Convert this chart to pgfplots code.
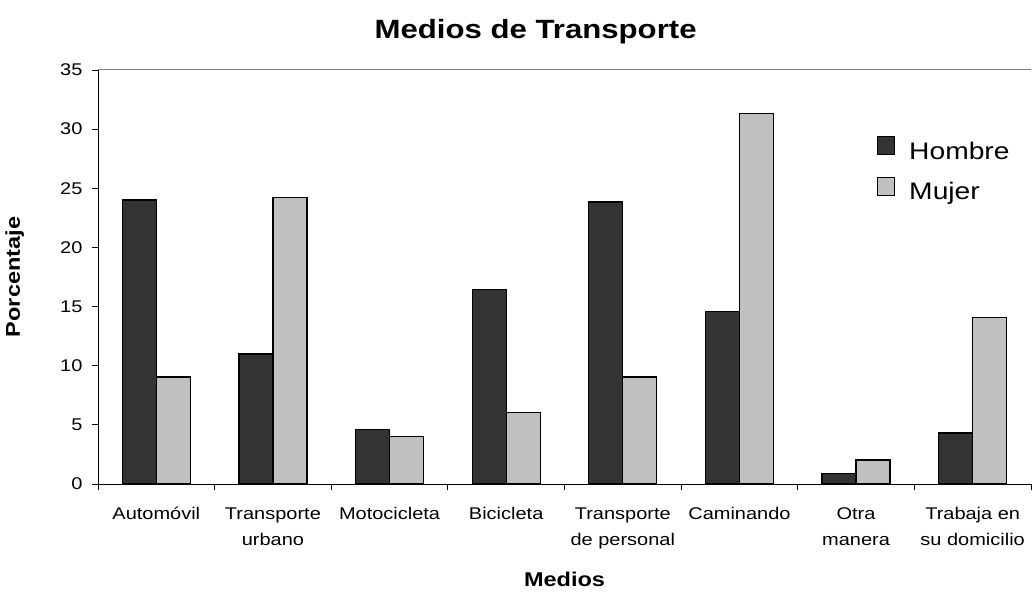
\documentclass[border=0pt]{standalone}
\usepackage{fontspec}
\setmainfont[FakeStretch=1.18]{Liberation Sans}
\usepackage{pgfplots}
\pgfplotsset{compat=1.18}

\definecolor{hombre}{HTML}{333333}
\definecolor{mujer}{HTML}{C0C0C0}

\begin{document}
\begin{tikzpicture}
\begin{axis}[
    at={(0,0)}, anchor=south west,
    scale only axis,
    width=933bp, height=414bp,
    ybar=0pt, bar width=34bp,
    xmin=-0.5, xmax=7.5,
    ymin=0, ymax=35,
    enlarge x limits=false,
    axis x line*=bottom,
    axis y line*=left,
    axis line style={black, line width=1pt},
    xtick={0,...,7},
    xticklabels={Automóvil, Transporte\\urbano, Motocicleta, Bicicleta,
        Transporte\\de personal, Caminando, Otra\\manera, Trabaja en\\su domicilio},
    xticklabel style={align=center, font=\fontsize{17}{26}\selectfont, anchor=north, yshift=-14bp},
    major x tick style={draw=none},
    minor xtick={-0.5,0.5,...,7.5},
    minor tick length=6bp,
    ytick={0,5,...,35},
    major tick length=6bp,
    tick align=outside,
    tick style={black, line width=0.8pt},
    yticklabel style={font=\fontsize{17}{20}\selectfont, xshift=-6bp},
    /pgf/number format/assume math mode=true,
    xlabel={\textbf{Medios}},
    xlabel style={font=\fontsize{20}{22}\selectfont, at={(rel axis cs:0.5,0)}, anchor=base, yshift=-102bp},
    ylabel={\textbf{Porcentaje}},
    ylabel style={font=\fontsize{20}{22}\selectfont, at={(rel axis cs:0,0.5)}, anchor=base, rotate=0, yshift=78bp},
    legend style={draw=none, fill=none, at={(rel axis cs:0.835,0.842)}, anchor=north west,
        font=\fontsize{24}{28}\selectfont, row sep=14bp, inner sep=0pt,
        /tikz/every odd column/.append style={column sep=12bp}},
    legend cell align=left,
    legend image code/.code={\draw[#1, line width=1pt] (0bp,-3bp) rectangle (17bp,15bp);},
    clip=false,
]
\addplot[fill=hombre, draw=black, line width=1.3pt]
    coordinates {(0,24.0) (1,11.0) (2,4.6) (3,16.45) (4,23.85) (5,14.6) (6,0.9) (7,4.3)};
\addplot[fill=mujer, draw=black, line width=1.3pt]
    coordinates {(0,9.05) (1,24.25) (2,4.0) (3,6.03) (4,9.05) (5,31.3) (6,2.03) (7,14.07)};
\legend{Hombre, Mujer}
\draw[gray, line width=1pt] (rel axis cs:0,1) -- (rel axis cs:1,1);
\node[font=\fontsize{26.5}{30}\bfseries\selectfont, anchor=base] at (rel axis cs:0.469,1) [yshift=31bp] {Medios de Transporte};
\end{axis}
\pgfresetboundingbox
\path (-98bp,-109bp) rectangle (934bp,484bp);
\end{tikzpicture}
\end{document}
